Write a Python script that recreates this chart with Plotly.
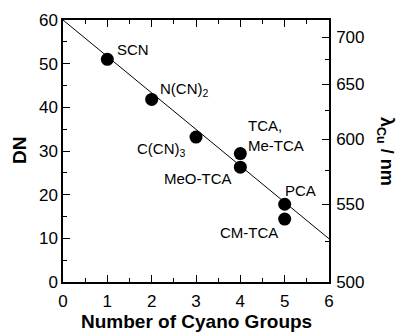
import plotly.graph_objects as go

# ---- data ----
anions = ["SCN", "N(CN)<sub>2</sub>", "C(CN)<sub>3</sub>", "TCA,<br>Me-TCA", "MeO-TCA", "PCA", "CM-TCA"]
n_cyano = [1, 2, 3, 4, 4, 5, 5]
dn_values = [51.0, 41.8, 33.2, 29.4, 26.3, 17.8, 14.4]

fit_x = [0, 6]
fit_y = [60.0, 9.9]

lam_major = [500, 550, 600, 650, 700]
lam_minor = [525, 575, 625, 675]
lam_top = 720  # wavelength at DN = 60

# ---- styling / placement ----
FONT = "Arial, Liberation Sans, Helvetica, sans-serif"
label_place = {
    "SCN": dict(xanchor="left", xshift=8, yshift=10),
    "N(CN)<sub>2</sub>": dict(xanchor="left", xshift=6, yshift=10),
    "C(CN)<sub>3</sub>": dict(xanchor="right", xshift=-8, yshift=-12),
    "TCA,<br>Me-TCA": dict(xanchor="left", xshift=6, yshift=18),
    "MeO-TCA": dict(xanchor="right", xshift=-6, yshift=-11),
    "PCA": dict(xanchor="left", xshift=-2, yshift=14),
    "CM-TCA": dict(xanchor="right", xshift=-5, yshift=-13),
}

fig = go.Figure()
fig.add_trace(go.Scatter(x=fit_x, y=fit_y, mode="lines",
                         line=dict(color="black", width=1), showlegend=False))
fig.add_trace(go.Scatter(x=n_cyano, y=dn_values, mode="markers",
                         marker=dict(color="black", size=13), showlegend=False))
fig.add_trace(go.Scatter(x=[None], y=[None], yaxis="y2", showlegend=False, hoverinfo="skip"))

to_e = lambda lam: 1e7 / lam

ann = []
for name, xv, yv in zip(anions, n_cyano, dn_values):
    p = label_place[name]
    ann.append(dict(x=xv, y=yv, xref="x", yref="y", text=name, showarrow=False,
                    xanchor=p["xanchor"], yanchor="middle", xshift=p["xshift"],
                    yshift=p["yshift"], align="left",
                    font=dict(family=FONT, size=15, color="black")))
ann.append(dict(x=0, y=0.5, xref="paper", yref="paper", text="<b>DN</b>", showarrow=False,
                textangle=-90, xshift=-44, xanchor="center", yanchor="middle",
                font=dict(family=FONT, size=19, color="black")))
ann.append(dict(x=1, y=0.5, xref="paper", yref="paper", text="<b>λ<sub>Cu</sub> / nm</b>",
                showarrow=False, textangle=90, xshift=57, xanchor="center", yanchor="middle",
                font=dict(family=FONT, size=18, color="black")))
ann.append(dict(x=0.5, y=0, xref="paper", yref="paper", text="<b>Number of Cyano Groups</b>",
                showarrow=False, yshift=-39, xanchor="center", yanchor="middle",
                font=dict(family=FONT, size=19, color="black")))

axis_common = dict(showgrid=False, zeroline=False, showline=True, linecolor="black",
                   linewidth=1.5, ticks="inside", ticklen=7, tickwidth=1.3, tickcolor="black",
                   automargin=False,
                   tickfont=dict(family=FONT, size=17, color="black"))

fig.update_layout(
    width=397, height=332,
    margin=dict(l=63, r=68, t=20, b=50, autoexpand=False),
    plot_bgcolor="white", paper_bgcolor="white",
    xaxis=dict(range=[0, 6], tickvals=[0, 1, 2, 3, 4, 5, 6], mirror="ticks",
               ticklabelstandoff=3,
               minor=dict(dtick=0.5, tick0=0, ticks="inside", ticklen=4, tickwidth=1.3, tickcolor="black"),
               **axis_common),
    yaxis=dict(range=[0, 60], tickvals=[0, 10, 20, 30, 40, 50, 60],
               minor=dict(dtick=5, tick0=0, ticks="inside", ticklen=4, tickwidth=1.3, tickcolor="black"),
               **axis_common),
    yaxis2=dict(overlaying="y", side="right", range=[to_e(500), to_e(lam_top)],
                tickvals=[to_e(v) for v in lam_major], ticktext=[str(v) for v in lam_major],
                ticklabelstandoff=2,
                minor=dict(tickvals=[to_e(v) for v in lam_minor], ticks="inside", ticklen=4,
                           tickwidth=1.3, tickcolor="black"),
                **axis_common),
    annotations=ann,
)

fig.write_html("out.html")
